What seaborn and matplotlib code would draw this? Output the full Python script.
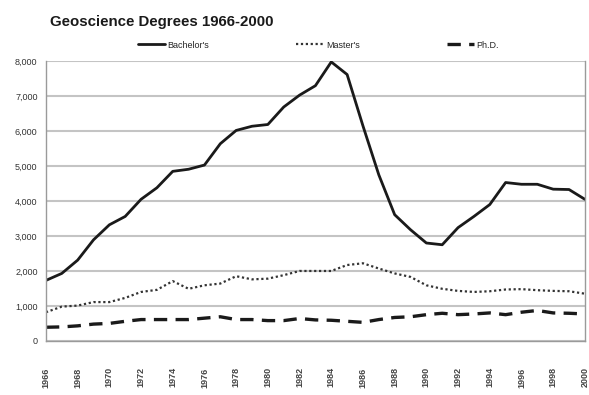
import matplotlib
matplotlib.use("Agg")
import matplotlib.pyplot as plt
import seaborn as sns
import pandas as pd
from matplotlib.ticker import FuncFormatter, MultipleLocator

years = list(range(1966, 2001))

bachelors = [1730, 1930, 2310, 2890, 3320, 3560, 4050, 4380, 4850, 4910,
             5030, 5640, 6020, 6140, 6190, 6690, 7030, 7300, 7980, 7620,
             6150, 4750, 3610, 3180, 2800, 2750, 3240, 3560, 3900, 4530,
             4480, 4480, 4340, 4330, 4050]

masters = [820, 980, 1010, 1110, 1110, 1230, 1400, 1460, 1710, 1490,
           1590, 1640, 1850, 1760, 1780, 1880, 2000, 2000, 2000, 2170,
           2220, 2070, 1930, 1830, 1590, 1490, 1430, 1400, 1420, 1470,
           1480, 1450, 1430, 1420, 1350]

phd = [390, 400, 430, 480, 500, 560, 610, 610, 610, 610,
       650, 690, 610, 610, 580, 580, 640, 600, 590, 560,
       530, 610, 670, 690, 750, 790, 750, 770, 800, 750,
       820, 870, 800, 790, 770]

series_names = ["Bachelor's", "Master's", "Ph.D."]

df = pd.DataFrame({
    "year": years * 3,
    "degrees": bachelors + masters + phd,
    "series": [series_names[0]] * len(years)
              + [series_names[1]] * len(years)
              + [series_names[2]] * len(years),
})

sns.set_theme(style="white")
plt.rcParams["font.family"] = ["Liberation Sans", "DejaVu Sans"]

fig = plt.figure(figsize=(5.89, 3.95), dpi=100)
ax = fig.add_axes([0.078, 0.137, 0.915, 0.708])

styles = {
    "Bachelor's": dict(linestyle="-", linewidth=2.0, color="#1a1a1a"),
    "Master's": dict(linestyle=(0, (1, 1.2)), linewidth=1.6, color="#333333"),
    "Ph.D.": dict(linestyle=(0, (4, 2.5)), linewidth=2.4, color="#1a1a1a"),
}
for name in series_names:
    sub = df[df["series"] == name]
    sns.lineplot(data=sub, x="year", y="degrees", ax=ax, label=name,
                 **styles[name])

ax.set_xlim(1966, 2000)
ax.set_ylim(0, 8000)
ax.yaxis.set_major_locator(MultipleLocator(1000))
ax.yaxis.set_major_formatter(FuncFormatter(lambda v, p: f"{int(v):,}"))
ax.grid(axis="y", color="#c4c4c4", linewidth=1.5)
ax.set_axisbelow(True)

ax.set_xticks(years)
ax.set_xticklabels([str(y) if y % 2 == 0 else "" for y in years],
                   rotation=90, fontsize=6.5, color="#444444",
                   fontweight="bold")
ax.tick_params(axis="x", direction="out", length=3, width=0.8,
               color="#999999", pad=16)
ax.tick_params(axis="y", direction="out", length=3, width=0.8,
               color="#999999", labelsize=6.5, labelcolor="#333333", pad=3)

for side in ["left", "bottom", "right"]:
    ax.spines[side].set_visible(True)
    ax.spines[side].set_color("#9a9a9a")
    ax.spines[side].set_linewidth(1.0)
ax.spines["top"].set_visible(False)

ax.set_xlabel("")
ax.set_ylabel("")

ax.legend_.remove()
handles, labels = ax.get_legend_handles_labels()
fig.legend(handles, labels, loc="center left",
           bbox_to_anchor=(0.228, 0.886, 0.625, 0.0), mode="expand",
           ncol=3, frameon=False, fontsize=6.5, handlelength=3.0,
           handletextpad=0.3, borderaxespad=0)

fig.text(0.085, 0.944, "Geoscience Degrees 1966-2000", fontsize=10.8,
         fontweight="bold", color="#1a1a1a", ha="left", va="center")

fig.savefig("out.png", dpi=100, facecolor="white")
